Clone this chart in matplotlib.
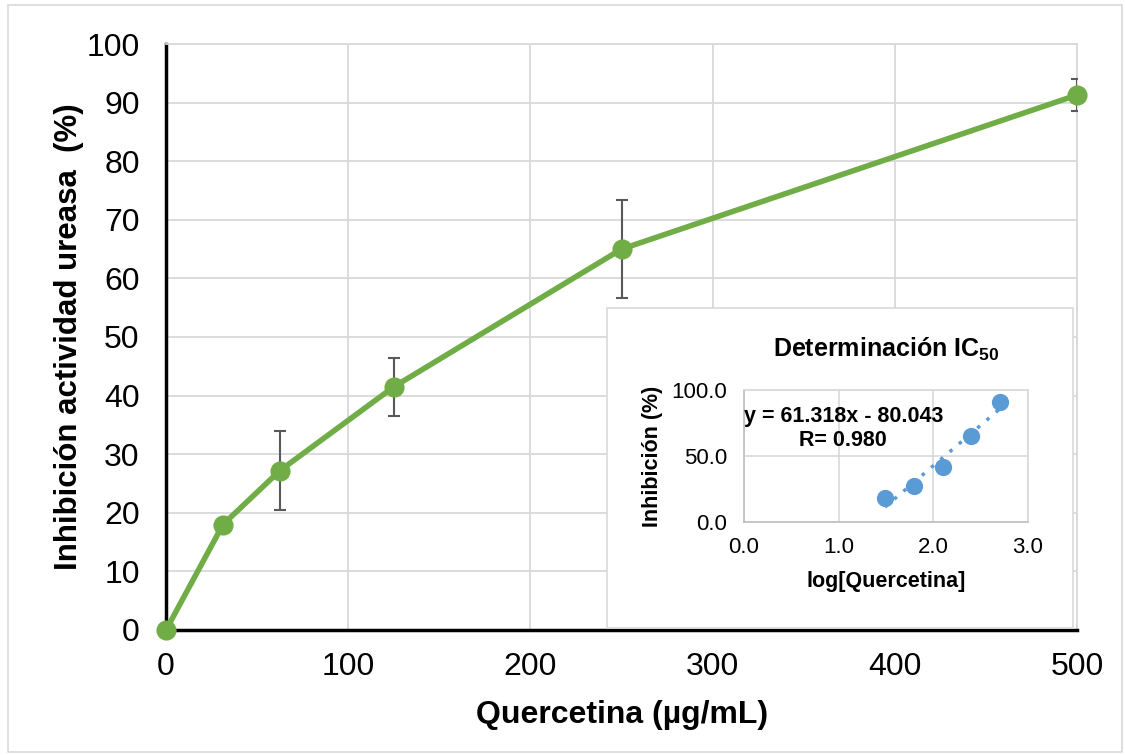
import numpy as np
import matplotlib.pyplot as plt
from matplotlib.patches import Rectangle

plt.rcParams['font.family'] = ['Liberation Sans', 'DejaVu Sans']
plt.rcParams['mathtext.fontset'] = 'custom'
plt.rcParams['mathtext.rm'] = 'Liberation Sans'
plt.rcParams['mathtext.bf'] = 'Liberation Sans:bold'

# quercetin concentration (ug/mL) vs urease inhibition (%)
conc = [0, 31.25, 62.5, 125, 250, 500]
inhib = [0.0, 18.0, 27.2, 41.5, 65.0, 91.3]
err = [0, 0, 6.7, 5.0, 8.4, 2.7]

# IC50 inset: log concentration vs inhibition
log_conc = [1.49, 1.80, 2.10, 2.40, 2.70]
inhib_ic = [18.0, 27.2, 41.5, 65.0, 91.3]
slope, intercept = 61.318, -80.043

green = '#70ad47'
blue = '#5b9bd5'
grid_c = '#d9d9d9'

fig = plt.figure(figsize=(11.25, 7.55), dpi=100)
fig.patches.append(Rectangle((0.007, 0.004), 0.99, 0.99, transform=fig.transFigure,
                             fill=False, edgecolor=grid_c, lw=1.2))

ax = fig.add_axes([0.1476, 0.1656, 0.8098, 0.7761])
ax.errorbar(conc, inhib, yerr=err, fmt='none', ecolor='#595959', elinewidth=1.5,
            capsize=4, capthick=1.5, zorder=3)
ax.plot(conc, inhib, color=green, lw=4, marker='o', ms=13.5, zorder=4, clip_on=False)
ax.set_xlim(0, 500)
ax.set_ylim(0, 100)
ax.set_xticks(range(0, 501, 100))
ax.set_yticks(range(0, 101, 10))
ax.grid(True, color=grid_c, lw=1.3)
ax.set_axisbelow(True)
for s in ['top', 'right']:
    ax.spines[s].set_color(grid_c)
    ax.spines[s].set_linewidth(1.3)
ax.spines['left'].set_linewidth(2.5)
ax.spines['bottom'].set_linewidth(2.5)
ax.tick_params(labelsize=23, length=0)
ax.tick_params(axis='y', pad=19)
ax.tick_params(axis='x', pad=16)
ax.set_xlabel('Quercetina (µg/mL)', fontsize=23, fontweight='bold', labelpad=13)
ax.set_ylabel('Inhibición actividad ureasa  (%)', fontsize=22.5, fontweight='bold', labelpad=2)

# inset panel
fig.patches.append(Rectangle((0.5396, 0.1682), 0.4142, 0.4238, transform=fig.transFigure,
                             facecolor='white', edgecolor=grid_c, lw=1.2, zorder=5))

ins = fig.add_axes([0.6613, 0.3086, 0.2524, 0.1748], zorder=6)
xs = np.array([log_conc[0], log_conc[-1]])
ins.plot(xs, slope * xs + intercept, color=blue, lw=2.5, ls=(0, (1, 2.5)), zorder=3)
ins.scatter(log_conc, inhib_ic, color=blue, s=130, zorder=4)
ins.set_xlim(0, 3)
ins.set_ylim(0, 100)
ins.set_xticks([0, 1, 2, 3])
ins.set_yticks([0, 50, 100])
ins.set_xticklabels(['0.0', '1.0', '2.0', '3.0'])
ins.set_yticklabels(['0.0', '50.0', '100.0'])
ins.grid(True, color=grid_c, lw=1.2)
ins.set_axisbelow(True)
for s in ins.spines.values():
    s.set_color(grid_c)
    s.set_linewidth(1.2)
ins.spines['left'].set_color('#bfbfbf')
ins.spines['bottom'].set_color('#bfbfbf')
ins.tick_params(labelsize=16, length=0)
ins.tick_params(axis='y', pad=12)
ins.tick_params(axis='x', pad=11)
ins.set_xlabel('log[Quercetina]', fontsize=15.5, fontweight='bold', labelpad=9)
ins.set_ylabel('Inhibición (%)', fontsize=15.5, fontweight='bold', labelpad=6)
ins.set_title('Determinación IC$_{\\mathbf{50}}$', fontsize=18, fontweight='bold', pad=24)
ins.text(0.35, 0.80, 'y = 61.318x - 80.043', transform=ins.transAxes, fontsize=15.5,
         fontweight='bold', va='center', ha='center', zorder=5)
ins.text(0.35, 0.62, 'R= 0.980', transform=ins.transAxes, fontsize=15.5,
         fontweight='bold', va='center', ha='center', zorder=5)

fig.savefig('out.png', dpi=100)
